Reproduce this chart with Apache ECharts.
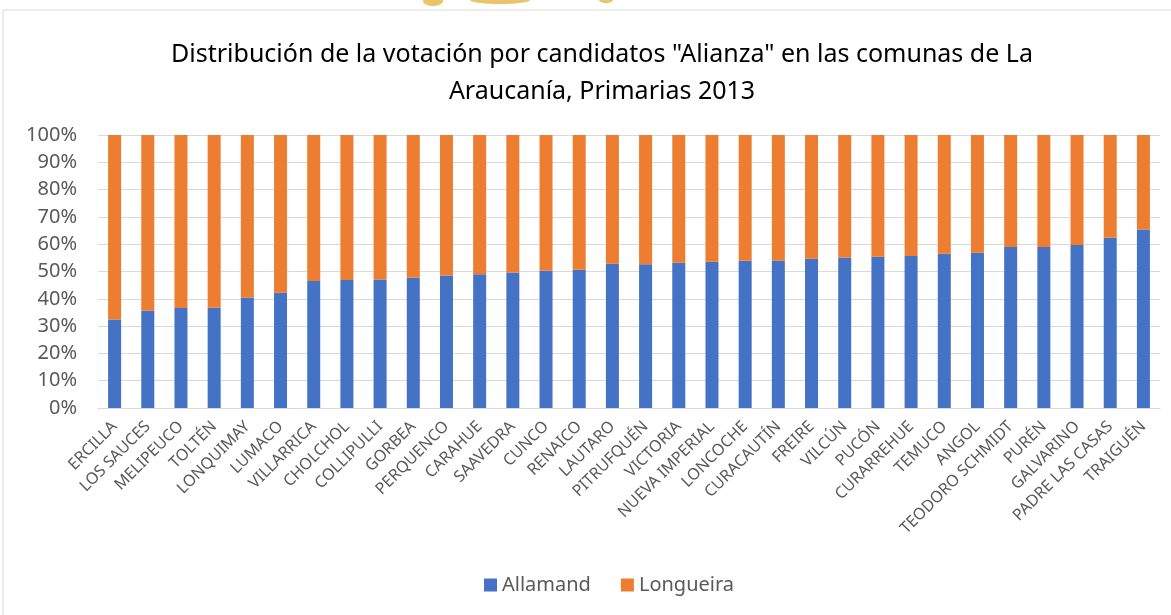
<!DOCTYPE html>
<html>
<head>
<meta charset="utf-8">
<script src="https://cdn.jsdelivr.net/npm/echarts@6/dist/echarts.min.js"></script>
<style>
html,body{margin:0;padding:0;background:#fff;}
#chart{width:1171px;height:615px;}
</style>
</head>
<body>
<div id="chart"></div>
<script>
var comunas = ['ERCILLA','LOS SAUCES','MELIPEUCO','TOLTÉN','LONQUIMAY','LUMACO','VILLARRICA','CHOLCHOL',
	'COLLIPULLI','GORBEA','PERQUENCO','CARAHUE','SAAVEDRA','CUNCO','RENAICO','LAUTARO','PITRUFQUÉN',
	'VICTORIA','NUEVA IMPERIAL','LONCOCHE','CURACAUTÍN','FREIRE','VILCÚN','PUCÓN','CURARREHUE','TEMUCO',
	'ANGOL','TEODORO SCHMIDT','PURÉN','GALVARINO','PADRE LAS CASAS','TRAIGUÉN'];
var allamand = [32.4,35.6,36.6,36.7,40.5,42.2,46.5,46.9,47.1,47.7,48.5,49.0,49.6,50.3,50.6,52.8,52.7,
	53.2,53.6,53.9,54.0,54.7,55.1,55.4,55.7,56.5,56.9,59.0,59.0,59.7,62.4,65.4];
var longueira = [67.6,64.4,63.4,63.3,59.5,57.8,53.5,53.1,52.9,52.3,51.5,51.0,50.4,49.7,49.4,47.2,47.3,
	46.8,46.4,46.1,46.0,45.3,44.9,44.6,44.3,43.5,43.1,41.0,41.0,40.3,37.6,34.6];
var yTicks = [0,10,20,30,40,50,60,70,80,90,100];

var chart = echarts.init(document.getElementById('chart'));
var font = 'Noto Sans';
chart.setOption({
	animation: false,
	textStyle: {fontFamily: font},
	title: {
		text: 'Distribución de la votación por candidatos "Alianza" en las comunas de La\nAraucanía, Primarias 2013',
		left: 597,
		textAlign: 'center',
		top: 31,
		textStyle: {fontFamily: font, fontSize: 25, fontWeight: 'normal', color: '#000', lineHeight: 37}
	},
	graphic: [
		{type: 'rect', shape: {x: 3, y: 10, width: 1180, height: 620}, style: {fill: 'none', stroke: '#d9d9d9', lineWidth: 1}},
		{type: 'ellipse', shape: {cx: 433, cy: 1, rx: 10, ry: 5}, style: {fill: '#e9c46a'}},
		{type: 'ellipse', shape: {cx: 500, cy: 0, rx: 30, ry: 4}, style: {fill: '#e9c46a'}},
		{type: 'ellipse', shape: {cx: 606, cy: 0, rx: 7, ry: 3}, style: {fill: '#e9c46a'}}
	],
	legend: {
		bottom: 15,
		left: 479,
		itemWidth: 13,
		itemHeight: 13,
		itemGap: 30,
		icon: 'rect',
		textStyle: {fontFamily: font, fontSize: 20, color: '#595959'},
		data: ['Allamand','Longueira']
	},
	grid: {left: 98, right: 11, top: 135, bottom: 207},
	xAxis: {
		type: 'category',
		data: comunas,
		axisLine: {lineStyle: {color: '#d9d9d9'}},
		axisTick: {show: false},
		axisLabel: {rotate: 45, interval: 0, fontFamily: font, fontSize: 16, color: '#595959', margin: 16}
	},
	yAxis: {
		type: 'value',
		min: 0,
		max: 100,
		interval: 10,
		axisLine: {show: false},
		axisTick: {show: false},
		splitLine: {lineStyle: {color: '#d9d9d9', width: 1}},
		axisLabel: {
			fontFamily: font, fontSize: 20, color: '#595959', margin: 21,
			formatter: function (v) { return yTicks.indexOf(v) >= 0 ? v + '%' : ''; }
		}
	},
	series: [
		{name: 'Allamand', type: 'bar', stack: 'total', barWidth: 13, data: allamand,
			itemStyle: {color: '#4472c4'}},
		{name: 'Longueira', type: 'bar', stack: 'total', barWidth: 13, data: longueira,
			itemStyle: {color: '#ed7d31'}}
	]
});
</script>
</body>
</html>
